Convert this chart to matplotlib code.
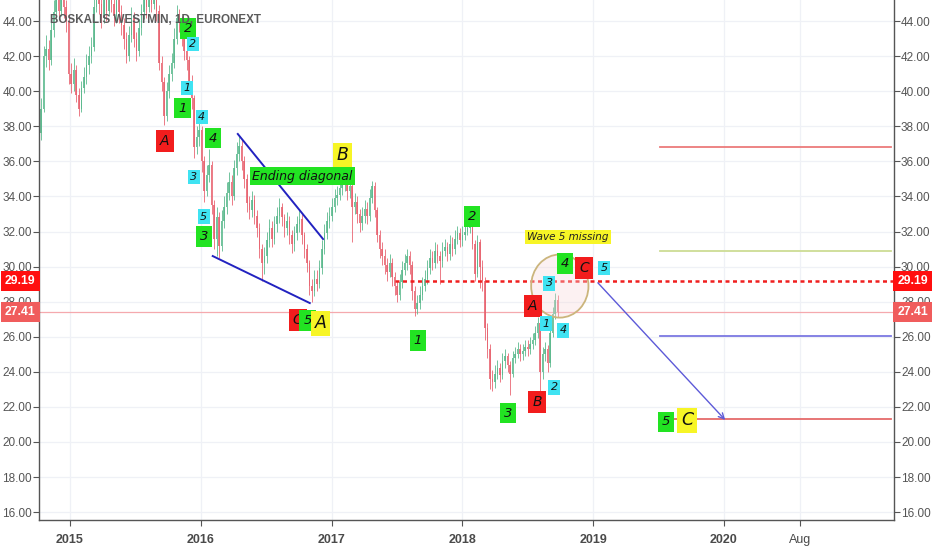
import matplotlib
matplotlib.use("Agg")
import matplotlib.pyplot as plt
import matplotlib.dates as mdates
import matplotlib.transforms as mtransforms
from matplotlib.patches import Ellipse
import pandas as pd

# weekly candles
first_date = "2014-10-06"
first_open = 38.4
closes = [37.6, 39.0, 42.0, 42.4, 41.8, 43.5, 44.5, 45.3, 44.6, 45.5,
          44.8, 44.0, 41.0, 40.4, 41.2, 39.8, 39.0, 40.2, 40.8, 41.5,
          42.0, 42.5, 44.8, 45.5, 45.0, 44.2, 45.4, 44.6, 45.8, 45.0,
          44.3, 45.2, 44.5, 43.8, 43.0, 42.0, 43.2, 44.2, 43.0, 42.3,
          43.6, 44.5, 45.3, 44.8, 45.6, 45.0, 45.8, 44.6, 41.6, 40.5,
          38.6, 40.0, 41.0, 41.6, 43.0, 44.2, 44.0, 43.2, 42.3, 41.8,
          40.6, 39.6, 36.8, 37.4, 37.8, 36.0, 34.3, 35.2, 35.8, 33.5,
          31.6, 32.8, 31.2, 32.6, 33.4, 34.2, 34.8, 34.0, 35.6, 36.4,
          36.9, 36.0, 35.0, 33.6, 33.2, 33.8, 32.9, 32.2, 31.0, 30.2,
          30.6, 31.5, 32.2, 31.6, 32.4, 32.9, 33.4, 32.8, 32.2, 32.6,
          31.8, 31.3, 31.9, 32.4, 32.7, 31.8, 31.0, 30.2, 28.9, 28.6,
          29.3, 29.0, 29.9, 31.0, 31.9, 32.6, 32.9, 33.4, 33.9, 34.1,
          34.5, 34.7, 34.9, 34.3, 34.6, 33.4, 33.7, 33.0, 32.5, 32.9,
          33.3, 32.9, 33.9, 34.6, 33.2, 31.8, 31.0, 30.6, 30.1, 29.7,
          30.2, 29.4, 28.9, 28.4, 29.1, 29.8, 30.2, 30.6, 30.1, 28.6,
          27.6, 27.9, 28.4, 28.9, 29.3, 29.9, 30.5, 30.2, 30.9, 30.6,
          30.3, 30.9, 31.1, 30.7, 31.3, 31.0, 31.6, 31.9, 31.5, 31.8,
          32.0, 32.2, 32.4, 31.3, 29.6, 31.4, 30.0, 29.2, 26.5, 25.3,
          23.6, 23.4, 23.9, 24.2, 23.8, 24.6, 24.9, 24.4, 23.9, 24.8,
          25.0, 25.3, 25.0, 25.2, 25.4, 25.3, 25.6, 25.8, 26.2, 26.8,
          24.0, 25.0, 25.3, 24.5, 26.2, 27.3, 28.1, 27.41]
highs = [39.3, 39.6, 42.6, 43.2, 42.9, 44.0, 45.2, 46.0, 45.9, 46.2,
         46.0, 45.2, 44.3, 41.6, 41.9, 41.5, 40.2, 40.6, 41.4, 42.1,
         42.6, 43.1, 45.3, 46.3, 46.1, 45.5, 46.0, 45.9, 46.4, 46.2,
         45.4, 45.8, 45.6, 44.9, 44.2, 43.4, 43.7, 44.8, 44.5, 43.4,
         44.1, 45.0, 45.9, 45.8, 46.3, 46.0, 46.5, 46.0, 44.9, 42.0,
         40.8, 40.5, 41.5, 42.2, 43.6, 44.9, 44.7, 44.3, 43.5, 42.7,
         42.0, 40.9, 39.8, 38.0, 38.3, 38.0, 36.3, 35.8, 36.7, 36.0,
         33.8, 33.4, 33.1, 33.2, 34.0, 34.8, 35.4, 35.2, 36.1, 37.1,
         37.5, 37.2, 36.3, 35.3, 34.0, 34.3, 34.1, 33.2, 32.5, 31.3,
         31.1, 32.0, 32.7, 32.6, 32.9, 33.4, 33.9, 33.6, 33.0, 33.1,
         32.9, 32.1, 32.3, 32.9, 33.2, 33.0, 32.0, 31.3, 30.4, 29.3,
         29.8, 29.8, 30.4, 31.5, 32.4, 33.1, 33.4, 33.9, 34.4, 34.6,
         35.0, 35.2, 35.3, 35.1, 35.0, 34.8, 34.2, 34.0, 33.3, 33.4,
         33.8, 33.7, 34.4, 34.9, 34.8, 33.4, 32.1, 31.4, 31.0, 30.5,
         30.7, 30.5, 29.7, 29.2, 29.6, 30.3, 30.7, 31.0, 30.9, 30.3,
         28.9, 28.4, 28.9, 29.4, 29.8, 30.4, 31.0, 30.9, 31.4, 31.3,
         30.9, 31.4, 31.6, 31.4, 31.8, 31.7, 32.1, 32.3, 32.2, 32.3,
         32.5, 32.6, 32.8, 32.6, 31.5, 31.8, 31.6, 30.4, 29.4, 26.8,
         25.6, 24.1, 24.4, 24.7, 24.5, 25.1, 25.3, 25.1, 24.6, 25.2,
         25.4, 25.7, 25.6, 25.6, 25.8, 25.8, 26.0, 26.2, 26.6, 27.1,
         27.0, 25.4, 25.7, 25.5, 26.6, 27.7, 28.5, 28.4]
lows = [36.6, 37.2, 38.8, 41.4, 41.2, 41.5, 43.1, 44.0, 44.1, 44.3,
        44.2, 43.4, 40.4, 39.9, 40.0, 39.4, 38.6, 38.8, 39.9, 40.4,
        41.0, 41.6, 42.3, 44.5, 44.4, 43.6, 43.9, 44.0, 44.3, 44.5,
        43.7, 43.9, 43.9, 43.2, 42.4, 41.6, 41.7, 42.8, 42.5, 41.7,
        42.0, 43.2, 44.1, 44.2, 44.5, 44.5, 44.7, 44.0, 41.2, 40.0,
        38.1, 38.3, 39.6, 40.6, 41.3, 42.7, 43.4, 42.6, 41.8, 41.2,
        40.1, 39.0, 36.2, 36.4, 36.9, 35.4, 33.7, 34.0, 34.8, 33.0,
        31.0, 30.6, 30.5, 30.9, 32.2, 33.0, 33.8, 33.5, 33.8, 35.2,
        36.0, 35.5, 34.5, 33.1, 32.7, 32.8, 32.4, 31.7, 30.5, 29.2,
        29.6, 30.2, 31.1, 31.1, 31.3, 32.0, 32.5, 32.3, 31.7, 31.8,
        31.3, 30.8, 30.9, 31.5, 32.0, 31.3, 30.5, 29.7, 28.4, 28.0,
        28.3, 28.6, 28.8, 29.6, 30.7, 31.6, 32.2, 32.6, 33.1, 33.5,
        33.8, 34.1, 34.3, 33.8, 33.9, 31.4, 33.0, 32.5, 32.0, 32.1,
        32.5, 32.4, 32.6, 33.6, 32.8, 31.4, 30.5, 30.1, 29.6, 29.2,
        29.4, 28.9, 28.4, 28.0, 28.1, 28.8, 29.5, 29.8, 29.6, 28.1,
        27.2, 27.3, 27.6, 28.1, 28.6, 29.0, 29.6, 29.8, 29.9, 30.2,
        29.0, 30.0, 30.6, 30.3, 30.4, 30.6, 30.7, 31.3, 31.1, 31.2,
        31.5, 31.8, 31.9, 31.0, 29.2, 29.4, 28.8, 28.6, 25.8, 24.8,
        23.0, 22.9, 23.1, 23.6, 23.4, 23.6, 24.2, 24.0, 22.7, 23.7,
        24.5, 24.8, 24.6, 24.7, 24.9, 24.9, 25.0, 25.3, 25.5, 25.9,
        22.8, 23.6, 24.6, 24.0, 24.3, 26.0, 27.0, 27.1]

last_price = 27.41
marked_level = 29.19
target_levels = [36.82, 30.89, 26.04, 21.30]
target_colors = ["#ec7b7b", "#cddc94", "#7b78e2", "#e56a6a"]

# elliott wave labels: (date, price, text, kind)
wave_labels = [
    ("2015-11-26", 43.6, "2", "green"), ("2015-12-10", 42.69, "2", "cyan"),
    ("2015-11-23", 40.18, "1", "cyan"), ("2015-11-12", 39.04, "1", "green"),
    ("2016-01-04", 38.53, "4", "cyan"), ("2015-09-23", 37.16, "A", "red"),
    ("2016-02-04", 37.33, "4", "green"), ("2015-12-13", 35.11, "3", "cyan"),
    ("2016-01-10", 32.83, "5", "cyan"), ("2016-01-10", 31.74, "3", "green"),
    ("2017-02-01", 36.36, "B", "yellow"), ("2016-09-28", 26.95, "C", "red"),
    ("2016-10-26", 26.90, "5", "green"), ("2016-12-02", 26.78, "A", "yellow"),
    ("2017-08-30", 25.76, "1", "green"), ("2018-01-27", 32.88, "2", "green"),
    ("2018-10-14", 30.15, "4", "green"), ("2018-12-06", 29.92, "C", "red"),
    ("2019-01-31", 29.92, "5", "cyan"), ("2018-08-31", 29.06, "3", "cyan"),
    ("2018-07-17", 27.75, "A", "red"), ("2018-08-22", 26.73, "1", "cyan"),
    ("2018-10-09", 26.38, "4", "cyan"), ("2018-05-08", 21.65, "3", "green"),
    ("2018-07-28", 22.28, "B", "red"), ("2018-09-14", 23.13, "2", "cyan"),
    ("2019-07-23", 21.14, "5", "green"), ("2019-09-20", 21.25, "C", "yellow"),
]
box_colors = {"green": "#22e322", "cyan": "#3fe3f2", "red": "#f21d1d", "yellow": "#f7f526"}
box_sizes = {"green": 9.5, "cyan": 8, "red": 10, "yellow": 12.5}
box_pads = {"green": 0.3, "cyan": 0.22, "red": 0.3, "yellow": 0.2}

diag_upper = [("2016-04-14", 37.56), ("2016-12-08", 31.57)]
diag_lower = [("2016-02-04", 30.60), ("2016-11-01", 27.92)]
arrow_path = [("2019-01-09", 29.19), ("2020-01-10", 21.14)]

d = mdates.date2num
dates = d(pd.date_range(first_date, periods=len(closes), freq="7D"))
opens = [first_open] + closes[:-1]

tick_font = ["Liberation Sans", "DejaVu Sans"]

fig = plt.figure(figsize=(9.32, 5.5), dpi=100)
ax = fig.add_axes([39 / 932, 30 / 550, 855 / 932, 520 / 550])
ax.set_xlim(d(pd.Timestamp("2014-10-07")), d(pd.Timestamp("2021-04-20")))
ax.set_ylim(15.55, 45.2)

# grid
for y in range(16, 46, 2):
    ax.axhline(y, color="#eff1f6", lw=0.9, zorder=0)
xticks = ["2015-01-01", "2016-01-01", "2017-01-01", "2018-01-01",
          "2019-01-01", "2020-01-01", "2020-08-01"]
xlabels = ["2015", "2016", "2017", "2018", "2019", "2020", "Aug"]
for t in xticks:
    ax.axvline(d(pd.Timestamp(t)), color="#eff1f6", lw=0.9, zorder=0)

# candles
up_c, dn_c = "#5ab98d", "#e86370"
for x, o, h, l, c in zip(dates, opens, highs, lows, closes):
    col = up_c if c >= o else dn_c
    ax.vlines(x, l, h, color=col, lw=0.7, alpha=0.85, zorder=2)
    ax.bar(x, max(abs(c - o), 0.05), bottom=min(o, c), width=4.2,
           color=col, alpha=0.85, lw=0, zorder=2)

# price lines
ax.axhline(last_price, color="#f5a9ae", lw=0.9, zorder=1)
ax.plot([d(pd.Timestamp("2017-06-27")), ax.get_xlim()[1]], [marked_level] * 2,
        color="#f01f1f", lw=1.8, ls=(0, (1.6, 1.4)), zorder=3)
for lvl, col in zip(target_levels, target_colors):
    ax.plot([d(pd.Timestamp("2019-07-07")), d(pd.Timestamp("2021-04-12"))], [lvl] * 2,
            color=col, lw=1.3, zorder=3)

# ending diagonal
for seg in (diag_upper, diag_lower):
    ax.plot([d(pd.Timestamp(s[0])) for s in seg], [s[1] for s in seg],
            color="#2222c0", lw=1.4, zorder=4)

ax.annotate("", xy=(d(pd.Timestamp(arrow_path[1][0])), arrow_path[1][1]),
            xytext=(d(pd.Timestamp(arrow_path[0][0])), arrow_path[0][1]),
            arrowprops=dict(arrowstyle="->", color="#5d5ad8", lw=1.0), zorder=4)

ax.add_patch(Ellipse((d(pd.Timestamp("2018-09-30")), 28.89), 160, 3.6,
                     facecolor=(0.97, 0.85, 0.86, 0.35), edgecolor="#cbb57c",
                     lw=1.3, zorder=3))

for date, price, txt, kind in wave_labels:
    ax.text(d(pd.Timestamp(date)), price, txt, fontsize=box_sizes[kind],
            style="italic", ha="center", va="center", color="#111111", zorder=6,
            bbox=dict(boxstyle=f"square,pad={box_pads[kind]}", fc=box_colors[kind], ec="none"))

ax.text(d(pd.Timestamp("2016-10-12")), 35.16, "Ending diagonal", fontsize=9,
        style="italic", ha="center", va="center", color="#111111", zorder=6,
        bbox=dict(boxstyle="square,pad=0.2", fc=box_colors["green"], ec="none"))
ax.text(d(pd.Timestamp("2018-10-23")), 31.69, "Wave 5 missing", fontsize=7.5,
        style="italic", ha="center", va="center", color="#222222", zorder=6,
        bbox=dict(boxstyle="square,pad=0.2", fc=box_colors["yellow"], ec="none"))

ax.text(0.013, 0.961, "BOSKALIS WESTMIN, 1D, EURONEXT", transform=ax.transAxes,
        fontsize=8.4, fontweight="bold", color="#5a5a5a",
        family=tick_font, ha="left", va="center", zorder=7)

# axes
ax.set_xticks([d(pd.Timestamp(t)) for t in xticks])
ax.set_xticklabels(xlabels, family=tick_font, fontsize=9, color="#4a4a4a")
for lab in ax.get_xticklabels()[:-1]:
    lab.set_fontweight("bold")
ax.set_yticks(range(16, 46, 2))
ax.set_yticklabels([f"{v:.2f}" for v in range(16, 46, 2)], family=tick_font,
                   fontsize=8.5, color="#555555")
ax.tick_params(axis="y", left=True, right=True, labelleft=True, labelright=True,
               length=4, width=0.8, color="#555555", pad=1)
ax.tick_params(axis="x", length=4, width=0.8, color="#555555", pad=6)
for side in ("left", "right", "bottom"):
    ax.spines[side].set_color("#555555")
    ax.spines[side].set_linewidth(1.0)
ax.spines["top"].set_visible(False)

blend = mtransforms.blended_transform_factory(ax.transAxes, ax.transData)
for val, col in ((marked_level, "#ff0f0f"), (last_price, "#f05c5c")):
    for xa, ha in ((1.004, "left"), (-0.004, "right")):
        ax.text(xa, val, f"{val:.2f}", transform=blend, ha=ha, va="center",
                fontsize=8.8, fontweight="bold", color="white", family=tick_font,
                zorder=8, clip_on=False,
                bbox=dict(boxstyle="square,pad=0.35", fc=col, ec="none"))

fig.savefig("out.png", dpi=100)
